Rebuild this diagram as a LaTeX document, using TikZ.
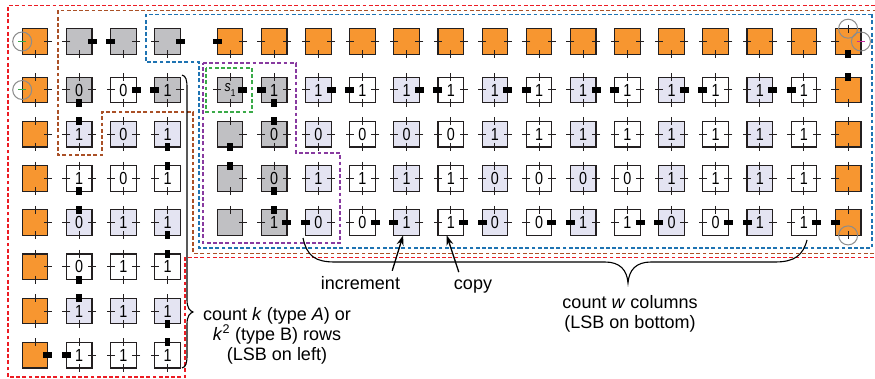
\documentclass[tikz,border=0pt]{standalone}
\usepackage{fontspec}
\setmainfont{Liberation Sans}
\usetikzlibrary{arrows.meta}
\definecolor{tor}{RGB}{247,150,48}
\definecolor{tgr}{RGB}{192,192,195}
\definecolor{tlv}{RGB}{228,228,242}
\definecolor{tbd}{RGB}{35,31,32}
\definecolor{dred}{RGB}{236,28,36}
\definecolor{dbrn}{RGB}{170,80,38}
\definecolor{dblu}{RGB}{30,115,178}
\definecolor{dpur}{RGB}{136,58,160}
\definecolor{dgrn}{RGB}{58,170,72}
\definecolor{ringc}{RGB}{140,140,140}
\definecolor{magt}{RGB}{200,40,160}
\tikzset{
 tilebox/.style={draw=tbd,line width=1.2pt,minimum size=25.6pt,inner sep=0pt,outer sep=0pt,font=\fontsize{17.5}{17.5}\selectfont},
 orng/.style={fill=tor}, gry/.style={fill=tgr}, lav/.style={fill=tlv}, wht/.style={fill=white},
 tk/.style={draw=tbd,line width=1pt},
 glue/.style={fill=black},
 ring/.style={draw=ringc,line width=1pt},
 dbox/.style={dash pattern=on 3.8pt off 2.4pt,line width=1.5pt},
 lbl/.style={font=\fontsize{18}{20}\selectfont,inner sep=0pt,anchor=base},
 bracepath/.style={draw=black,line width=1.1pt},
 arr/.style={draw=black,line width=1.3pt,-{Stealth[length=10pt,width=7pt]}},
}
\newcommand\dg[1]{\scalebox{0.82}[1]{#1}}
\newcommand\sone{{\fontsize{15}{15}\selectfont\itshape s}\raisebox{-0.5ex}{\fontsize{10}{10}\selectfont 1}}
% name, x, y, style, label, N, E, S, W  (t = tick, b = glue block, n = none)
\newcommand\tl[9]{%
 \node[tilebox,#4] (#1) at (#2,#3) {\dg{#5}};
 \ifx t#6\draw[tk] ([yshift=4pt]#1.north) -- ([yshift=-4pt]#1.north);\fi
 \ifx b#6\fill[glue] ([xshift=-2.75pt,yshift=-4pt]#1.north) rectangle ([xshift=2.75pt,yshift=4pt]#1.north);\fi
 \ifx t#8\draw[tk] ([yshift=4pt]#1.south) -- ([yshift=-4pt]#1.south);\fi
 \ifx b#8\fill[glue] ([xshift=-2.75pt,yshift=-4pt]#1.south) rectangle ([xshift=2.75pt,yshift=4pt]#1.south);\fi
 \ifx t#7\draw[tk] ([xshift=4pt]#1.east) -- ([xshift=-4pt]#1.east);\fi
 \ifx b#7\fill[glue] ([xshift=-4.5pt,yshift=-2.75pt]#1.east) rectangle ([xshift=4.5pt,yshift=2.75pt]#1.east);\fi
 \ifx t#9\draw[tk] ([xshift=4pt]#1.west) -- ([xshift=-4pt]#1.west);\fi
 \ifx b#9\fill[glue] ([xshift=-4.5pt,yshift=-2.75pt]#1.west) rectangle ([xshift=4.5pt,yshift=2.75pt]#1.west);\fi
}
\begin{document}
\begin{tikzpicture}[x=1pt,y=-1pt]
\useasboundingbox (0,0) rectangle (875,379);
\clip (0,0) rectangle (875,379);
\fill[white] (0,0) rectangle (875,379);

% ---------- left block ----------
\tl{L-0-1}{35}{41.5}{orng}{}{n}{t}{t}{n}
\tl{L-0-2}{35}{90}{orng}{}{t}{t}{t}{n}
\foreach \r/\y in {3/134.2,4/178.4,5/222.6,6/266.8,7/311}{\tl{L-0-\r}{35}{\y}{orng}{}{t}{t}{t}{n}}
\tl{L-0-8}{35}{355.2}{orng}{}{t}{b}{n}{n}

\tl{L-1-1}{79.2}{41.5}{gry}{}{n}{b}{t}{t}
\tl{L-1-2}{79.2}{90}{gry}{0}{t}{t}{b}{t}
\tl{L-1-3}{79.2}{134.2}{lav}{1}{b}{t}{t}{t}
\tl{L-1-4}{79.2}{178.4}{wht}{1}{t}{t}{b}{t}
\tl{L-1-5}{79.2}{222.6}{lav}{0}{b}{t}{t}{t}
\tl{L-1-6}{79.2}{266.8}{wht}{0}{t}{t}{b}{t}
\tl{L-1-7}{79.2}{311}{lav}{1}{b}{t}{t}{t}
\tl{L-1-8}{79.2}{355.2}{wht}{1}{t}{t}{t}{b}

\tl{L-2-1}{123.4}{41.5}{gry}{}{n}{t}{t}{b}
\tl{L-2-2}{123.4}{90}{wht}{0}{t}{b}{t}{t}
\tl{L-2-3}{123.4}{134.2}{lav}{0}{t}{t}{t}{t}
\tl{L-2-4}{123.4}{178.4}{wht}{0}{t}{t}{t}{t}
\tl{L-2-5}{123.4}{222.6}{lav}{1}{t}{t}{t}{t}
\tl{L-2-6}{123.4}{266.8}{wht}{1}{t}{t}{t}{t}
\tl{L-2-7}{123.4}{311}{lav}{1}{t}{t}{t}{t}
\tl{L-2-8}{123.4}{355.2}{wht}{1}{t}{t}{t}{t}

\tl{L-3-1}{167.6}{41.5}{gry}{}{n}{b}{t}{t}
\tl{L-3-2}{167.6}{90}{gry}{1}{t}{t}{t}{b}
\tl{L-3-3}{167.6}{134.2}{lav}{1}{t}{n}{b}{t}
\tl{L-3-4}{167.6}{178.4}{wht}{1}{b}{n}{t}{t}
\tl{L-3-5}{167.6}{222.6}{lav}{1}{t}{n}{b}{t}
\tl{L-3-6}{167.6}{266.8}{wht}{1}{b}{n}{t}{t}
\tl{L-3-7}{167.6}{311}{lav}{1}{t}{n}{b}{t}
\tl{L-3-8}{167.6}{355.2}{wht}{1}{b}{n}{t}{t}

% rings on the seed column
\foreach \n in {L-0-1,L-0-2}{
 \draw[ring] (\n.west) circle[radius=9.5pt];
 \draw[line width=1pt,draw=dgrn] ([xshift=-4pt]\n.west) -- ([xshift=4pt]\n.west);
}

% ---------- right block ----------
% row 1
\tl{R-0-1}{230}{41.5}{orng}{}{n}{t}{t}{b}
\foreach \i in {1,...,13}{\pgfmathsetmacro\xx{230+44.15*\i}\tl{R-\i-1}{\xx}{41.5}{orng}{}{n}{t}{t}{t}}
\tl{R-14-1}{848.1}{41.5}{orng}{}{n}{n}{b}{t}
\draw[ring] (R-14-1.north) circle[radius=9.5pt];
\draw[tk] ([yshift=4pt]R-14-1.north) -- ([yshift=-4pt]R-14-1.north);
\draw[ring] (R-14-1.east) circle[radius=9.5pt];
\draw[line width=1pt,draw=magt] ([xshift=-4pt]R-14-1.east) -- ([xshift=4pt]R-14-1.east);

% row 2
\tl{R-0-2}{230}{90}{gry}{\sone}{t}{b}{t}{t}
\tl{R-1-2}{274.15}{90}{gry}{1}{t}{t}{b}{b}
\foreach \i in {2,4,...,12}{%
 \pgfmathsetmacro\xx{230+44.15*\i}\pgfmathsetmacro\xy{230+44.15*(\i+1)}\pgfmathtruncatemacro\j{\i+1}%
 \tl{R-\i-2}{\xx}{90}{lav}{1}{t}{b}{t}{t}
 \tl{R-\j-2}{\xy}{90}{wht}{1}{t}{t}{t}{b}}
\tl{R-14-2}{848.1}{90}{orng}{}{b}{n}{t}{t}

% row 3
\tl{R-0-3}{230}{134.2}{gry}{}{t}{t}{b}{n}
\tl{R-1-3}{274.15}{134.2}{gry}{0}{b}{t}{t}{t}
\foreach \i/\s/\l in {2/lav/0,3/wht/0,4/lav/0,5/wht/0,6/lav/1,7/wht/1,8/lav/1,9/wht/1,10/lav/1,11/wht/1,12/lav/1,13/wht/1}{%
 \pgfmathsetmacro\xx{230+44.15*\i}\tl{R-\i-3}{\xx}{134.2}{\s}{\l}{t}{t}{t}{t}}
\tl{R-14-3}{848.1}{134.2}{orng}{}{t}{n}{t}{t}

% row 4
\tl{R-0-4}{230}{178.4}{gry}{}{b}{t}{t}{n}
\tl{R-1-4}{274.15}{178.4}{gry}{0}{t}{t}{b}{t}
\foreach \i/\s/\l in {2/lav/1,3/wht/1,4/lav/1,5/wht/1,6/lav/0,7/wht/0,8/lav/0,9/wht/0,10/lav/1,11/wht/1,12/lav/1,13/wht/1}{%
 \pgfmathsetmacro\xx{230+44.15*\i}\tl{R-\i-4}{\xx}{178.4}{\s}{\l}{t}{t}{t}{t}}
\tl{R-14-4}{848.1}{178.4}{orng}{}{t}{n}{t}{t}

% row 5
\tl{R-0-5}{230}{222.6}{gry}{}{t}{t}{n}{n}
\tl{R-1-5}{274.15}{222.6}{gry}{1}{b}{b}{n}{t}
\foreach \i/\l in {2/0,4/1,6/0,8/1,10/0,12/1}{%
 \pgfmathsetmacro\xx{230+44.15*\i}\pgfmathsetmacro\xy{230+44.15*(\i+1)}\pgfmathtruncatemacro\j{\i+1}%
 \tl{R-\i-5}{\xx}{222.6}{lav}{\l}{t}{t}{n}{b}
 \tl{R-\j-5}{\xy}{222.6}{wht}{\l}{t}{b}{n}{t}}
\tl{R-14-5}{848.1}{222.6}{orng}{}{t}{n}{n}{b}
\draw[ring] (R-14-5.south) circle[radius=9.5pt];
\draw[tk] ([yshift=4pt]R-14-5.south) -- ([yshift=-4pt]R-14-5.south);

% ---------- dashed regions ----------
\draw[dbox,draw=dred] (880,257.5) -- (185,257.5) -- (185,377) -- (8,377) -- (8,5.7) -- (880,5.7);
\draw[dbox,draw=dbrn] (880,253.3) -- (193,253.3) -- (193,112) -- (102,112) -- (102,155) -- (58,155) -- (58,10.7) -- (880,10.7);
\draw[dbox,draw=dblu] (872,14.3) -- (872,248) -- (199,248) -- (199,62) -- (146,62) -- (146,14.3) -- cycle;
\draw[dbox,draw=dpur] (203,63) -- (296,63) -- (296,153) -- (340,153) -- (340,243) -- (203,243) -- cycle;
\draw[dbox,draw=dgrn] (206,68) rectangle (252,112);

% ---------- braces ----------
\draw[bracepath] (182,75) .. controls (186,76) and (187,80) .. (187,88) -- (187,300)
  .. controls (187,308) and (190,311) .. (193,312) .. controls (190,313) and (187,316) .. (187,324)
  -- (187,355) .. controls (187,363) and (186,367) .. (182,368);
\draw[bracepath] (303,238) .. controls (307,256) and (315,262) .. (335,262) -- (605,262)
  .. controls (620,262) and (627,270) .. (628,283) .. controls (629,270) and (636,262) .. (651,262)
  -- (775,262) .. controls (795,262) and (803,255) .. (807,240);

% ---------- labels ----------
\node[lbl] (cntk1) at (277,320) {count \textit{k} (type \textit{A}) or};
\node[lbl] (cntk2) at (277,340) {\textit{k}\textsuperscript{2} (type B) rows};
\node[lbl] (cntk3) at (277,360) {(LSB on left)};
\node[lbl] (cntw1) at (630,308) {count \textit{w} columns};
\node[lbl] (cntw2) at (630,328) {(LSB on bottom)};
\node[lbl] (incr) at (360.5,290) {increment};
\node[lbl] (cpy) at (473,290) {copy};

\draw[arr] ([xshift=-8pt,yshift=6pt]incr.north east) -- ([xshift=-3.5pt]R-4-5.south);
\draw[arr] ([xshift=5pt,yshift=8pt]cpy.north west) -- ([xshift=-4pt]R-5-5.south);
\end{tikzpicture}
\end{document}
